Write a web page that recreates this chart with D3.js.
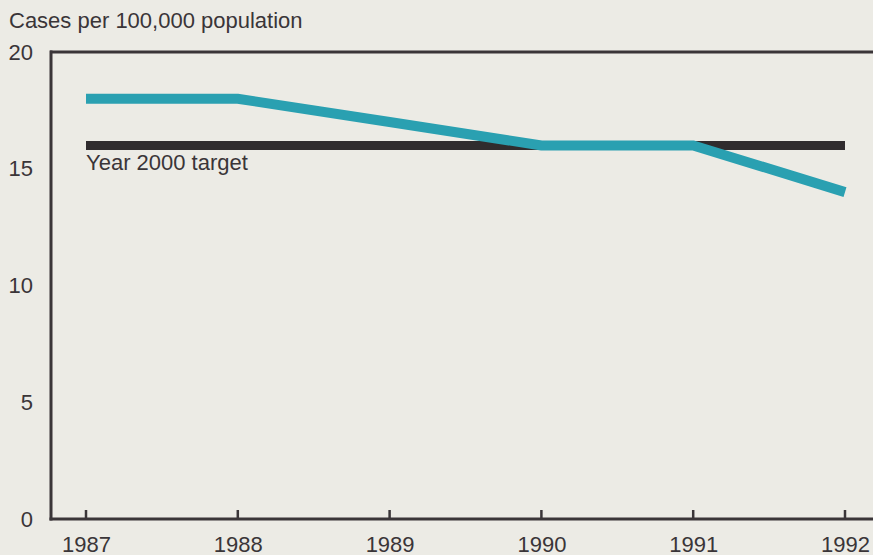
<!DOCTYPE html>
<html><head><meta charset="utf-8">
<script src="https://cdn.jsdelivr.net/npm/d3@7"></script>
<style>
html,body{margin:0;padding:0;background:#ecebe5;}
svg{display:block;}
text{font-family:"Liberation Sans",Arial,sans-serif;fill:#3a3538;}
</style></head><body>
<svg id="chart" width="873" height="555"></svg>
<script>
const years = [1987, 1988, 1989, 1990, 1991, 1992];
const rates = [18, 18, 17, 16, 16, 14];
const target = 16;
const yTicks = [0, 5, 10, 15, 20];
const yTitle = "Cases per 100,000 population";
const targetLabel = "Year 2000 target";

const svg = d3.select("#chart");
const x = d3.scaleLinear().domain([1987, 1992]).range([86, 845]);
const y = d3.scaleLinear().domain([0, 20]).range([519, 52]);
const axisColor = "#3a3538";
const fs = 22;

// frame: top and left
svg.append("line").attr("x1", 50).attr("x2", 873).attr("y1", y(20)).attr("y2", y(20))
  .attr("stroke", axisColor).attr("stroke-width", 3);
svg.append("line").attr("x1", 51).attr("x2", 51).attr("y1", y(20) - 1.5).attr("y2", y(0) + 1.5)
  .attr("stroke", axisColor).attr("stroke-width", 3);

// x axis
const xAxis = svg.append("g").attr("transform", `translate(0,${y(0)})`)
  .call(d3.axisBottom(x).tickValues(years).tickFormat(d3.format("d")).tickSize(0).tickPadding(0));
xAxis.select(".domain").remove();
svg.append("line").attr("x1", 49.5).attr("x2", 873).attr("y1", y(0)).attr("y2", y(0))
  .attr("stroke", axisColor).attr("stroke-width", 3);
svg.append("g").selectAll("line").data(years).join("line")
  .attr("x1", d => x(d)).attr("x2", d => x(d))
  .attr("y1", y(0)).attr("y2", y(0) - 9)
  .attr("stroke", axisColor).attr("stroke-width", 2.5);
xAxis.selectAll("text").attr("font-size", fs).attr("y", 33).attr("dy", null).style("fill", "#3a3538");

// y axis labels
const yAxis = svg.append("g").attr("transform", `translate(33,0)`)
  .call(d3.axisLeft(y).tickValues(yTicks).tickSize(0).tickPadding(0));
yAxis.select(".domain").remove();
yAxis.selectAll("text").attr("font-size", fs).style("fill", "#3a3538");

// title
svg.append("text").attr("x", 9).attr("y", 28).attr("font-size", fs).text(yTitle);

// target line
svg.append("line").attr("x1", x(1987)).attr("x2", x(1992))
  .attr("y1", y(target)).attr("y2", y(target))
  .attr("stroke", "#302c2e").attr("stroke-width", 9);
svg.append("text").attr("x", x(1987)).attr("y", y(target) + 25)
  .attr("font-size", fs).text(targetLabel);

// data line
const line = d3.line().x((d, i) => x(years[i])).y(d => y(d));
svg.append("path").datum(rates).attr("d", line)
  .attr("fill", "none").attr("stroke", "#2aa0b1").attr("stroke-width", 10)
  .attr("stroke-linejoin", "miter");
</script>
</body></html>
